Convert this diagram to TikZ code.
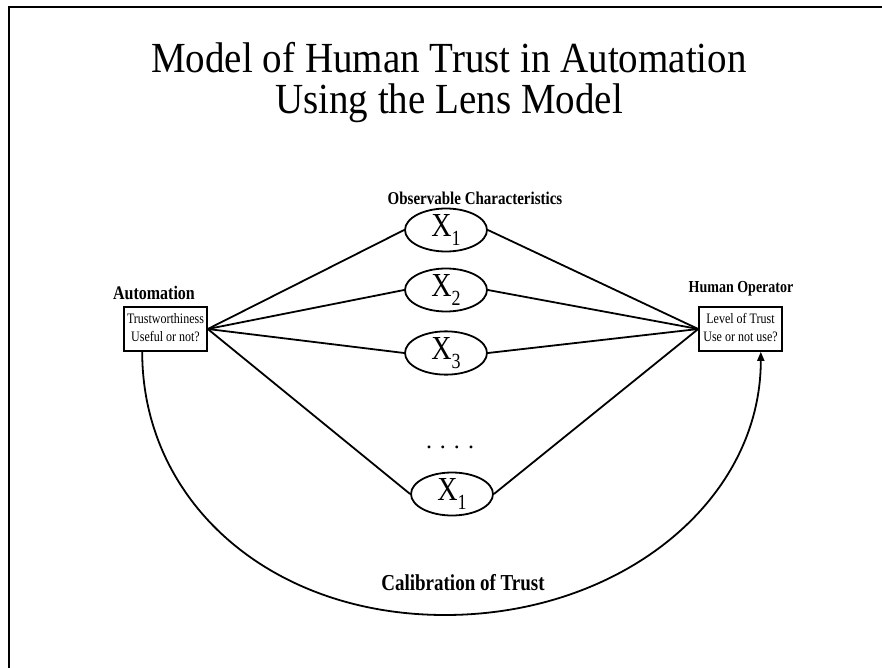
\documentclass[tikz,border=0pt]{standalone}
\usepackage{fontspec}
\setmainfont{Liberation Serif}
\usetikzlibrary{shapes.geometric,arrows.meta}
\newcommand{\vstretch}[2][1.2]{\scalebox{1}[#1]{#2}}
\newcommand{\lines}[1]{\begin{tabular}{@{}c@{}}#1\end{tabular}}
\newcommand{\subidx}[1]{\raisebox{-7pt}{\fontsize{18}{18}\selectfont #1}}
\begin{document}
\begin{tikzpicture}[x=1pt,y=-1pt,
  lens/.style={draw,ellipse,line width=1.8pt,minimum width=82pt,minimum height=40pt,inner sep=0pt,font=\fontsize{28}{28}\selectfont},
  infobox/.style={draw,line width=1.6pt,minimum width=83pt,minimum height=44pt,inner sep=0pt,font=\fontsize{12}{15}\selectfont},
  link/.style={line width=1.8pt},
  boldlabel/.style={font=\fontsize{#1}{20}\selectfont\bfseries},
  frameline/.style={line width=2.8pt}]
\useasboundingbox (0,0) rectangle (882,668);
\draw[frameline] (9,668) -- (9,7) -- (882,7);
\node[font=\fontsize{39}{36}\selectfont] (title) at (449,84) {\vstretch[1.1]{\lines{Model of Human Trust in Automation\\Using the Lens Model}}};
\node[boldlabel=15] (obs) at (475,198) {\vstretch{Observable Characteristics}};
\node[boldlabel=16] (autolab) at (154,293) {\vstretch{Automation}};
\node[boldlabel=14] (humlab) at (741,289) {\vstretch{Human Operator}};
\node[infobox] (auto) at (165.5,329) {\vstretch{\lines{Trustworthiness\\Useful or not?}}};
\node[infobox] (oper) at (740.5,329) {\vstretch{\lines{Level of Trust\\Use or not use?}}};
\node[lens] (x1) at (446,230) {\vstretch{X\subidx{1}}};
\node[lens] (x2) at (446,290) {\vstretch{X\subidx{2}}};
\node[lens] (x3) at (446,353) {\vstretch{X\subidx{3}}};
\node[font=\fontsize{24}{24}\selectfont] (dots) at (450,447) {. . . .};
\node[lens] (xn) at (452,494) {\vstretch{X\subidx{1}}};
\foreach \n in {x1,x2,x3,xn}{
  \draw[link] (auto.east) -- (\n.west);
  \draw[link] (\n.east) -- (oper.west);
}
\coordinate (arcstart) at ([xshift=19pt]auto.south west);
\coordinate (arcend) at ([xshift=-22pt]oper.south east);
\coordinate (arcbottom) at (445,615);
\draw[link,-{Triangle[length=9pt,width=7pt]}] (arcstart) .. controls +(0,150) and +(-175,0) .. (arcbottom) .. controls +(175,0) and +(0,150) .. (arcend);
\node[boldlabel=19] (calib) at (463,583) {\vstretch{Calibration of Trust}};
\end{tikzpicture}
\end{document}
